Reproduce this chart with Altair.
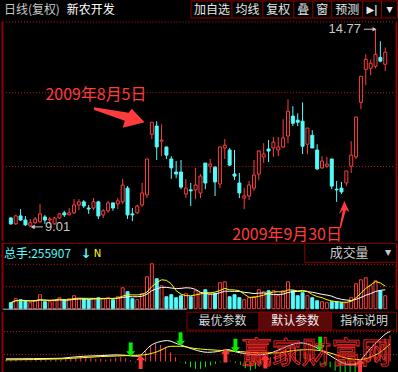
import altair as alt
import pandas as pd

RED = "#ff3c3c"
CYAN = "#54fcfc"
GREEN = "#00ee00"
DARKRED = "#8c0000"
GRID = "#c01c1c"
GRAY = "#c8c8c8"
FONT = "Noto Sans CJK SC"
NUMFONT = "Liberation Sans"

# ---- daily data (trading day index 1..78) ----
days = list(range(1, 79))
opens = [9.27, 9.10, 9.33, 9.21, 9.04, 9.13, 9.16, 9.30, 9.21, 9.10,
         9.27, 9.42, 9.36, 9.42, 9.65, 9.74, 9.56, 9.56, 9.74, 9.36,
         9.48, 9.71, 9.68, 9.74, 10.14, 9.39, 9.42, 9.65, 9.94, 11.71,
         11.95, 11.51, 11.34, 10.99, 10.61, 10.61, 9.97, 10.09, 10.09, 10.00,
         10.87, 10.78, 10.75, 10.26, 11.31, 11.25, 10.55, 10.29, 9.85, 9.91,
         10.14, 10.55, 11.05, 11.28, 11.31, 11.25, 11.34, 11.66, 12.24, 12.12,
         12.09, 11.42, 11.68, 11.25, 10.73, 10.78, 10.99, 10.11, 10.14, 10.29,
         10.78, 11.05, 12.64, 13.60, 13.63, 13.69, 13.95, 13.75]
closes = [9.10, 9.33, 9.21, 9.07, 9.13, 9.24, 9.39, 9.21, 9.24, 9.27,
          9.39, 9.36, 9.42, 9.65, 9.74, 9.62, 9.53, 9.74, 9.33, 9.48,
          9.71, 9.56, 9.77, 10.23, 9.36, 9.36, 9.62, 10.00, 10.99, 12.06,
          11.34, 11.54, 11.10, 10.73, 10.55, 10.17, 10.14, 10.06, 10.23, 10.49,
          10.29, 10.84, 10.32, 11.34, 11.39, 10.81, 10.49, 10.00, 9.91, 10.23,
          10.52, 11.22, 11.13, 11.22, 11.48, 11.34, 11.60, 12.38, 12.03, 12.06,
          11.36, 11.89, 11.31, 10.70, 10.93, 10.84, 10.20, 10.09, 10.03, 10.64,
          11.10, 12.21, 13.40, 13.89, 13.78, 14.04, 13.84, 14.10]
highs = [9.30, 9.36, 9.53, 9.33, 9.24, 9.30, 9.68, 9.36, 9.30, 9.30,
         9.42, 9.48, 9.56, 9.82, 9.82, 9.79, 9.65, 9.85, 9.77, 9.53,
         9.77, 9.71, 9.85, 10.41, 10.20, 9.56, 9.65, 10.29, 10.99, 12.06,
         12.09, 12.00, 11.34, 11.07, 10.93, 10.96, 10.41, 10.29, 10.73, 10.55,
         10.87, 10.99, 10.78, 11.34, 11.57, 11.31, 11.25, 10.58, 10.14, 10.35,
         10.96, 11.25, 11.45, 11.54, 11.63, 11.63, 12.15, 12.73, 12.53, 12.32,
         12.64, 11.89, 11.83, 11.42, 11.07, 11.05, 10.99, 10.35, 10.32, 10.64,
         11.51, 12.21, 13.40, 14.04, 13.89, 14.77, 14.42, 14.24]
lows = [9.07, 9.07, 9.18, 9.04, 9.01, 9.10, 9.13, 9.10, 9.10, 9.07,
        9.24, 9.30, 9.36, 9.39, 9.50, 9.56, 9.39, 9.50, 9.24, 9.27,
        9.42, 9.48, 9.53, 9.68, 9.24, 9.18, 9.39, 9.59, 9.85, 11.57,
        10.96, 11.07, 10.99, 10.41, 10.43, 10.11, 9.85, 9.62, 9.82, 9.85,
        10.11, 10.58, 9.91, 10.14, 10.99, 10.78, 10.38, 9.85, 9.53, 9.79,
        10.06, 10.38, 10.87, 10.90, 11.05, 11.07, 11.31, 11.45, 11.95, 11.95,
        11.13, 11.13, 11.31, 10.67, 10.70, 10.73, 10.11, 9.74, 9.97, 10.20,
        10.58, 10.99, 12.44, 13.14, 13.43, 13.63, 13.81, 13.55]
# volume, 万手
vols = [11.8, 19.7, 17.7, 15.7, 11.8, 15.7, 27.6, 13.8, 13.8, 15.7,
        21.7, 17.7, 19.7, 25.6, 19.7, 19.7, 17.7, 19.7, 21.7, 19.7,
        21.7, 17.7, 23.6, 41.3, 33.5, 19.7, 17.7, 29.5, 63.0, 88.6,
        59.1, 45.3, 23.6, 27.6, 21.7, 25.6, 29.5, 23.6, 35.4, 31.5,
        37.4, 29.5, 29.5, 51.2, 53.1, 23.6, 27.6, 21.7, 17.7, 21.7,
        23.6, 37.4, 33.5, 35.4, 35.4, 25.6, 35.4, 53.1, 35.4, 25.6,
        31.5, 25.6, 21.7, 15.7, 13.8, 11.8, 13.8, 13.8, 11.8, 11.8,
        21.7, 49.2, 57.1, 61.0, 45.3, 55.1, 35.4, 25.6]
# indicator histogram
macd_bar = [0.02, 0.015, 0.015, 0.01, 0.01, 0.01, 0.015, 0.015, 0.015, 0.015,
            0.02, 0.02, 0.025, 0.03, 0.04, 0.043, 0.037, 0.033, 0.027, 0.027,
            0.02, 0.027, 0.037, 0.043, 0.033, 0.013, -0.007, -0.007, 0.11, 0.153,
            0.177, 0.167, 0.143, 0.093, 0.043, 0.005, -0.023, -0.057, -0.073, -0.073,
            -0.057, -0.04, -0.023, -0.007, 0.027, 0.01, -0.013, -0.033, -0.067, -0.09,
            -0.073, -0.023, 0.027, 0.043, 0.067, 0.093, 0.127, 0.153, 0.143, 0.12,
            0.093, 0.067, 0.027, -0.01, -0.033, -0.057, -0.09, -0.107, -0.157, -0.14,
            -0.107, -0.04, 0.043, 0.11, 0.16, 0.21, 0.233, 0.26]
# indicator lines (read at sampled positions)
dif_day = [1, 12, 14, 16.6, 20, 23.4, 25.4, 27.6, 28.6, 30, 31.4, 33.4, 35.4, 37.4, 39.4,
           41.4, 43.4, 45.4, 47.4, 49.4, 51.4, 53.4, 55.4, 57.4, 60, 62, 64, 66, 68, 70,
           71.4, 72.6, 74, 76, 77.4, 78]
dif_val = [0.027, 0.033, 0.043, 0.053, 0.06, 0.067, 0.06, 0.053, 0.093, 0.16, 0.193, 0.21,
           0.177, 0.143, 0.11, 0.093, 0.10, 0.12, 0.093, 0.077, 0.067, 0.077, 0.11, 0.153,
           0.187, 0.167, 0.12, 0.06, 0.0, -0.033, -0.023, 0.043, 0.127, 0.227, 0.287, 0.30]
dea_day = [1, 12, 20, 25.4, 28.6, 31.4, 34, 36, 38.6, 41.4, 44.6, 48, 52, 55.4, 58.6,
           61.4, 64, 66.6, 69.4, 72, 74, 76, 78]
dea_val = [0.017, 0.027, 0.05, 0.06, 0.067, 0.10, 0.153, 0.153, 0.133, 0.12, 0.11, 0.10,
           0.087, 0.087, 0.11, 0.12, 0.11, 0.077, 0.033, 0.02, 0.043, 0.093, 0.177]
sig_day = [26, 36, 47, 64, 28, 45, 53, 72]
sig_val = [0.12, 0.225, 0.16, 0.18, -0.005, 0.06, 0.0, -0.04]
sig_dir = ["down", "down", "down", "down", "up", "up", "up", "up"]

df = pd.DataFrame({"k": days, "open": opens, "close": closes, "high": highs,
                   "low": lows, "vol": vols, "bar": macd_bar})
dif_df = pd.DataFrame({"k": dif_day, "v": dif_val})
dea_df = pd.DataFrame({"k": dea_day, "v": dea_val})
sig_df = pd.DataFrame({"k": sig_day, "v": sig_val, "d": sig_dir})
ONE = pd.DataFrame({"a": [0]})

W = 398
UP = "datum.close >= datum.open"


def xk(field="k"):
    return alt.X(f"{field}:Q", scale=alt.Scale(domain=[0, 79.6], nice=False, zero=False), axis=None)


PSCALE = alt.Scale(domain=[8.603, 14.998], nice=False, zero=False)
VSCALE = alt.Scale(domain=[0, 127.95], range=[65, 0], nice=False, zero=False)
ISCALE = alt.Scale(domain=[-0.16, 0.50], nice=False, zero=False)


def yp(field):
    return alt.Y(f"{field}:Q", scale=PSCALE, axis=None)


def txt(s, x, y, color, size, align="left", font=FONT, weight="normal", **kw):
    return alt.Chart(ONE).mark_text(text=s, align=align, baseline="middle", color=color,
                                    fontSize=size, font=font, fontWeight=weight, **kw).encode(
        x=alt.value(x), y=alt.value(y))


def rule(x, x2, y, y2, color, dash=None, width=1):
    kw = dict(color=color, strokeWidth=width)
    if dash:
        kw["strokeDash"] = dash
    return alt.Chart(ONE).mark_rule(**kw).encode(
        x=alt.value(x), x2=alt.value(x2), y=alt.value(y), y2=alt.value(y2))


def box(x, x2, y, y2, fill, stroke, fill_opacity=1):
    return alt.Chart(ONE).mark_rect(fill=fill, fillOpacity=fill_opacity, stroke=stroke,
                                    strokeWidth=1).encode(
        x=alt.value(x), x2=alt.value(x2), y=alt.value(y), y2=alt.value(y2))


def dotted(y, x=5, x2=395):
    return rule(x, x2, y, y, GRID, dash=[1, 2])


# ---------------- header ----------------
btn_edges = [231.5, 262.5, 293.5, 312.5, 331.5, 362.5, 381.5]
header_layers = [
    box(190.5, 397.5, 0.5, 17.5, "#000000", DARKRED),
    txt("日线(复权)", 3, 9.5, GRAY, 12),
    txt("新农开发", 66, 9.5, "#ffffff", 12),
]
for e in btn_edges:
    header_layers.append(rule(e, e, 0.5, 17.5, DARKRED))
for s, cx in [("加自选", 211.5), ("均线", 247), ("复权", 278), ("叠", 303), ("窗", 322), ("预测", 347)]:
    header_layers.append(txt(s, cx, 9.5, "#e6e6e6", 12, align="center"))
header_layers.append(txt("▶|", 372, 9.5, "#e6e6e6", 10, align="center", font="DejaVu Sans", weight="bold"))
header_layers.append(txt("▼", 389.5, 9.5, "#e6e6e6", 8, align="center", font="DejaVu Sans"))
header = alt.layer(*header_layers).properties(width=W, height=20)

# ---------------- main (candles) ----------------
cbase = alt.Chart(df).transform_calculate(
    top="max(datum.open, datum.close)", bot="min(datum.open, datum.close)")
candle_color = alt.condition(UP, alt.value(RED), alt.value(CYAN))
wick_hi = cbase.mark_rule(strokeWidth=1).encode(x=xk(), y=yp("high"), y2=alt.Y2("top:Q"), color=candle_color)
wick_lo = cbase.mark_rule(strokeWidth=1).encode(x=xk(), y=yp("bot"), y2=alt.Y2("low:Q"), color=candle_color)
body = cbase.mark_bar(size=3, strokeWidth=1).encode(
    x=xk(), y=yp("open"), y2=alt.Y2("close:Q"),
    fill=alt.condition(UP, alt.value("#000000"), alt.value(CYAN)),
    stroke=candle_color)

ann_df = pd.DataFrame({"k": [18.5, 57.8], "p": [12.85, 8.786],
                       "t": ["2009年8月5日", "2009年9月30日"]})
ann_text = alt.Chart(ann_df).mark_text(fontSize=16, font=FONT, color=RED, align="center",
                                       baseline="middle").encode(x=xk(), y=yp("p"), text="t:N")
ARROW_R = "M-0.98,-0.365 L0.365,-0.154 L0.48,-0.308 L0.98,0.212 L0.135,0.423 L0.212,0.154 L-0.98,-0.269 Z"
ARROW_U = "M0,-0.964 L0.357,-0.179 L0.107,-0.321 L-0.25,0.964 L-0.357,0.964 L-0.107,-0.321 L-0.393,-0.036 Z"
arr1 = alt.Chart(pd.DataFrame({"k": [23.3], "p": [12.22]})).mark_point(
    shape=ARROW_R, filled=True, size=2704, color=RED, opacity=1, strokeWidth=0).encode(x=xk(), y=yp("p"))
arr2 = alt.Chart(pd.DataFrame({"k": [69.6], "p": [9.37]})).mark_point(
    shape=ARROW_U, filled=True, size=784, color=RED, opacity=1, strokeWidth=0).encode(x=xk(), y=yp("p"))

hi_df = pd.DataFrame({"k": [73.0], "k1": [73.6], "k2": [75.8], "p": [14.77], "t": ["14.77"]})
hi_text = alt.Chart(hi_df).mark_text(fontSize=13, font=NUMFONT, color=GRAY, align="right",
                                     baseline="middle").encode(x=xk(), y=yp("p"), text="t:N")
hi_line = alt.Chart(hi_df).mark_rule(color=GRAY, strokeWidth=1).encode(
    x=xk("k1"), x2=alt.X2("k2:Q"), y=yp("p"))
hi_head = alt.Chart(hi_df).mark_point(shape="triangle-right", filled=True, size=22, color=GRAY,
                                      opacity=1).encode(x=xk("k2"), y=yp("p"))

lo_df = pd.DataFrame({"k": [8.0], "k1": [5.5], "k2": [7.6], "p": [9.01], "t": ["9.01"]})
lo_text = alt.Chart(lo_df).mark_text(fontSize=13, font=NUMFONT, color=GRAY, align="left",
                                     baseline="middle").encode(x=xk(), y=yp("p"), text="t:N")
lo_line = alt.Chart(lo_df).mark_rule(color=GRAY, strokeWidth=1).encode(
    x=xk("k1"), x2=alt.X2("k2:Q"), y=yp("p"))
lo_head = alt.Chart(lo_df).mark_point(shape="triangle-left", filled=True, size=22, color=GRAY,
                                      opacity=1).encode(x=xk("k1"), y=yp("p"))

main = alt.layer(
    dotted(0.5), dotted(71.5), dotted(145.5),
    rule(1.5, 1.5, 0, 220, DARKRED, width=2), rule(396.5, 396.5, 0, 220, DARKRED, width=2),
    wick_hi, wick_lo, body,
    ann_text, arr1, arr2,
    hi_line, hi_head, hi_text, lo_line, lo_head, lo_text,
).properties(width=W, height=220)

# ---------------- volume ----------------
vbase = alt.Chart(df).transform_window(
    ma5="mean(vol)", frame=[-4, 0], sort=[alt.SortField("k", order="ascending")]
).transform_window(
    ma10="mean(vol)", frame=[-9, 0], sort=[alt.SortField("k", order="ascending")])
vbars = alt.Chart(df).mark_bar(size=3, strokeWidth=1).encode(
    x=xk(), y=alt.Y("vol:Q", scale=VSCALE, axis=None), y2=alt.datum(0),
    fill=alt.condition(UP, alt.value("#000000"), alt.value(CYAN)), stroke=candle_color)
ma10 = vbase.mark_line(color="#ffffff", strokeWidth=1).encode(
    x=xk(), y=alt.Y("ma10:Q", scale=VSCALE, axis=None))
ma5 = vbase.mark_line(color="#ffff00", strokeWidth=1).encode(
    x=xk(), y=alt.Y("ma5:Q", scale=VSCALE, axis=None))

volume = alt.layer(
    dotted(20.5), dotted(43),
    rule(0, 304, -0.5, -0.5, DARKRED, width=1),
    rule(1.5, 1.5, 0, 66, DARKRED, width=2), rule(396.5, 396.5, 0, 66, DARKRED, width=2),
    vbars, ma10, ma5,
    rule(2, 186, 65.5, 65.5, "#b4b4b4"),
    txt("总手:255907", 3, 10, CYAN, 12),
    txt("↓", 80, 10, CYAN, 13, font="DejaVu Sans", weight="bold"),
    txt("N", 93, 10, "#ffff00", 10, font="DejaVu Sans"),
    box(304.5, 396.5, -0.5, 18.5, "#000000", DARKRED),
    txt("成交量", 349, 9, GRAY, 13, align="center"),
    txt("▼", 388, 9, GRAY, 8, align="center", font="DejaVu Sans"),
).properties(width=W, height=66)

# ---------------- indicator ----------------
ibars = alt.Chart(df).mark_rule(strokeWidth=1).encode(
    x=xk(), y=alt.Y("bar:Q", scale=ISCALE, axis=None), y2=alt.datum(0),
    color=alt.condition("datum.bar >= 0", alt.value(RED), alt.value(GREEN)))
dif_line = alt.Chart(dif_df).mark_line(color="#ffffff", strokeWidth=1, interpolate="monotone").encode(
    x=xk(), y=alt.Y("v:Q", scale=ISCALE, axis=None))
dea_line = alt.Chart(dea_df).mark_line(color="#ffff00", strokeWidth=1, interpolate="monotone").encode(
    x=xk(), y=alt.Y("v:Q", scale=ISCALE, axis=None))
DOWN_PATH = "M-0.28,-1 L0.28,-1 L0.28,0.25 L0.65,0.25 L0,1 L-0.65,0.25 L-0.28,0.25 Z"
UP_PATH = "M-0.28,1 L0.28,1 L0.28,-0.25 L0.65,-0.25 L0,-1 L-0.65,-0.25 L-0.28,-0.25 Z"
sig_down = alt.Chart(sig_df).transform_filter("datum.d == 'down'").mark_point(
    shape=DOWN_PATH, filled=True, size=196, color=GREEN, opacity=1, strokeWidth=0).encode(
    x=xk(), y=alt.Y("v:Q", scale=ISCALE, axis=None))
sig_up = alt.Chart(sig_df).transform_filter("datum.d == 'up'").mark_point(
    shape=UP_PATH, filled=True, size=196, color=RED, opacity=1, strokeWidth=0).encode(
    x=xk(), y=alt.Y("v:Q", scale=ISCALE, axis=None))

watermark = alt.Chart(ONE).mark_text(
    text="赢家财富网", align="center", baseline="middle", fontSize=30, font=FONT,
    color="#ff2a2a", fillOpacity=0, stroke="#ff2a2a", strokeWidth=0.8, strokeOpacity=1
).encode(x=alt.value(316), y=alt.value(42))

indicator = alt.layer(
    dotted(20, 3, 397), dotted(43, 3, 397),
    rule(1.5, 1.5, 0, 66, DARKRED, width=2),
    ibars, dif_line, dea_line, sig_down, sig_up,
    watermark,
    box(186.5, 396.5, 0.5, 18.5, "#000000", DARKRED),
    box(258.5, 331.5, 0.5, 18.5, "#5a0808", DARKRED),
    txt("最优参数", 222, 9.5, "#d8d8d8", 12, align="center"),
    txt("默认参数", 295, 9.5, "#f0f0f0", 12, align="center"),
    txt("指标说明", 364, 9.5, "#d8d8d8", 12, align="center"),
).properties(width=W, height=66)

chart = alt.vconcat(header, main, volume, indicator, spacing=0).properties(
    background="#000000", padding=0
).configure_view(strokeWidth=0, fill="#000000").configure_concat(spacing=0)

chart.save("out.html", embed_options={"renderer": "svg", "actions": False})
